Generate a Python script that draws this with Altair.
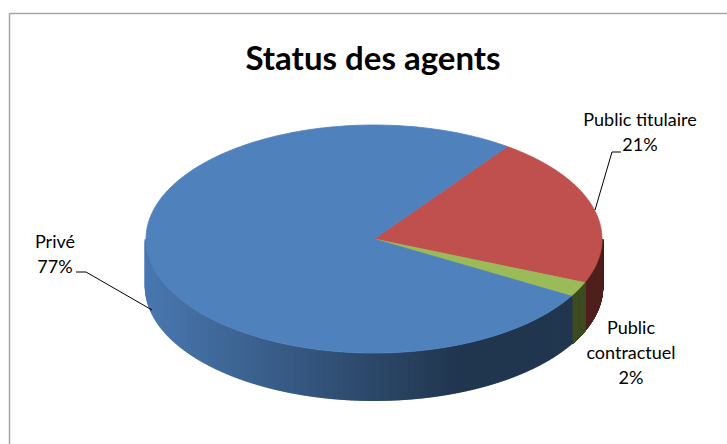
import textwrap
import altair as alt
import pandas as pd

# ---- data -------------------------------------------------------------
title_text = "Status des agents"
categories = ["Public titulaire", "Public contractuel", "Privé"]
shares = [21.3, 2.1, 76.6]          # percent
slice_order = [0, 1, 2]             # clockwise order of the slices
top_colors = ["#C0504D", "#9BBB59", "#4F81BD"]

# ---- layout / style ---------------------------------------------------
W, H = 727, 444
CX, CY, RX, RY, DEPTH = 374, 239, 228, 114, 48
START = 0.625                       # start angle (rad, clockwise from 12 o'clock)
FONT = "Lato"


def hex_rgb(h):
    h = h.lstrip("#")
    return [int(h[i:i + 2], 16) for i in (0, 2, 4)]


rgb = [hex_rgb(c) for c in top_colors]
df = pd.DataFrame({
    "cat": categories,
    "val": shares,
    "idx": slice_order,
    "r": [c[0] for c in rgb],
    "g": [c[1] for c in rgb],
    "b": [c[2] for c in rgb],
})
df["label"] = ["\n".join(textwrap.wrap(c, 16)) + f"\n{round(v)}%" for c, v in zip(categories, shares)]

xs = alt.Scale(domain=[0, W], nice=False, zero=False)
ys = alt.Scale(domain=[0, H], nice=False, zero=False, reverse=True)
cscale = alt.Scale(domain=categories, range=top_colors)

ang = (
    alt.Chart(df)
    .transform_joinaggregate(total="sum(val)")
    .transform_window(cum="sum(val)", sort=[alt.SortField("idx")], frame=[None, 0])
    .transform_calculate(a1=f"{START} + 2*PI*datum.cum/datum.total")
    .transform_calculate(a0=f"{START} + 2*PI*(datum.cum-datum.val)/datum.total")
)

# side walls (front half only), shaded left -> right
walls = (
    ang.transform_calculate(lo="max(datum.a0, PI/2)")
    .transform_calculate(hi="min(datum.a1, 3*PI/2)")
    .transform_filter("datum.hi > datum.lo")
    .transform_calculate(t="sequence(0, 361)")
    .transform_flatten(["t"])
    .transform_calculate(a="datum.lo + (datum.hi-datum.lo)*datum.t/360")
    .transform_calculate(x=f"{CX} + {RX}*sin(datum.a)")
    .transform_calculate(y=f"{CY} - {RY}*cos(datum.a)")
    .transform_calculate(y2=f"datum.y + {DEPTH}")
    .transform_calculate(f=f"max(0.42, 0.93 - 0.75*(datum.x - {CX - RX})/{2 * RX})")
    .transform_calculate(
        col="'rgb(' + round(datum.r*datum.f) + ',' + round(datum.g*datum.f) + ',' + round(datum.b*datum.f) + ')'"
    )
    .mark_rule(strokeWidth=2.5)
    .encode(
        x=alt.X("x:Q", scale=xs, axis=None),
        y=alt.Y("y:Q", scale=ys, axis=None),
        y2="y2:Q",
        color=alt.Color("col:N", scale=None, legend=None),
    )
)

# top face wedges
N = 200
top = (
    ang.transform_calculate(t=f"sequence(-1, {N + 2})")
    .transform_flatten(["t"])
    .transform_calculate(a=f"datum.a0 + (datum.a1-datum.a0)*clamp(datum.t,0,{N})/{N}")
    .transform_calculate(inside=f"datum.t < 0 || datum.t > {N}")
    .transform_calculate(x=f"datum.inside ? {CX} : {CX} + {RX}*sin(datum.a)")
    .transform_calculate(y=f"datum.inside ? {CY} : {CY} - {RY}*cos(datum.a)")
    .mark_line(strokeWidth=0.8, strokeJoin="round")
    .encode(
        x=alt.X("x:Q", scale=xs, axis=None),
        y=alt.Y("y:Q", scale=ys, axis=None),
        order=alt.Order("t:Q"),
        color=alt.Color("cat:N", scale=cscale, legend=None),
        fill=alt.Fill("cat:N", scale=cscale, legend=None),
    )
)


def label(cat, x, y):
    return (
        alt.Chart(df)
        .transform_filter(alt.datum.cat == cat)
        .mark_text(lineBreak="\n", font=FONT, fontSize=18, lineHeight=25,
                   align="center", baseline="middle", color="#000000")
        .encode(x=alt.value(x), y=alt.value(y), text="label:N")
    )


one = pd.DataFrame({"k": [0]})


def seg(x1, y1, x2, y2, color="#000000", w=1.0):
    return alt.Chart(one).mark_rule(color=color, strokeWidth=w).encode(
        x=alt.value(x1), y=alt.value(y1), x2=alt.value(x2), y2=alt.value(y2)
    )


title = (
    alt.Chart(pd.DataFrame({"t": [title_text]}))
    .mark_text(font=FONT, fontSize=33, fontWeight="bold", align="center",
               baseline="alphabetic", color="#000000")
    .encode(x=alt.value(373), y=alt.value(70), text="t:N")
)

frame = seg(9.5, 13, 9.5, H, "#A6A6A6", 1.5) + seg(9, 13.5, W, 13.5, "#A6A6A6", 1.5)

leaders = (
    seg(612, 152, 621, 152) + seg(612, 152, 595, 210)
    + seg(76, 272, 86, 272) + seg(86, 272, 152, 310)
)

chart = (
    alt.layer(
        frame,
        walls,
        top,
        leaders,
        label("Public titulaire", 640, 121),
        label("Public contractuel", 631, 329),
        label("Privé", 55, 243),
        title,
    )
    .properties(width=W, height=H, padding=0, autosize="none", background="white")
    .configure_view(stroke=None)
)

chart.save("out.html", embed_options={"renderer": "svg", "actions": False})
